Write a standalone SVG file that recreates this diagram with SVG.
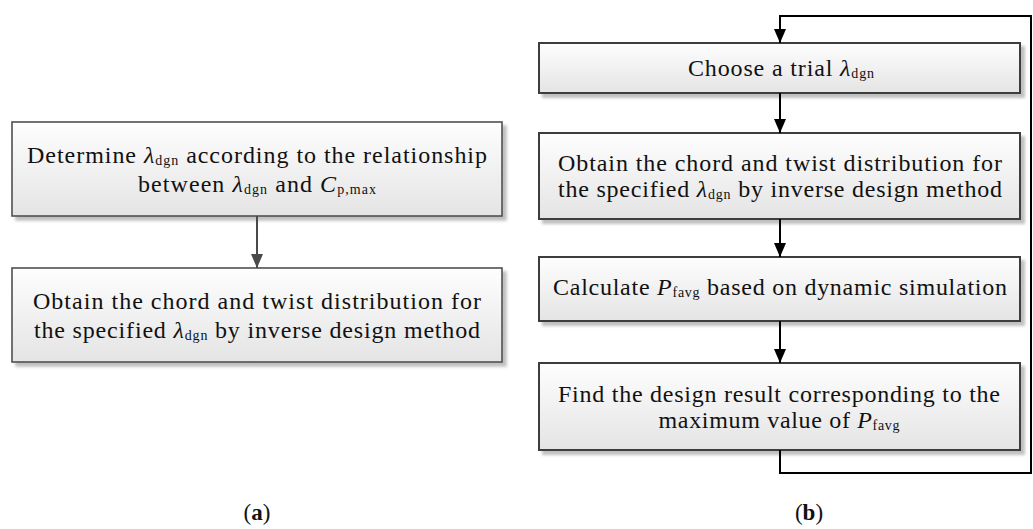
<svg xmlns="http://www.w3.org/2000/svg" width="1033" height="529" viewBox="0 0 1033 529">
<defs>
<linearGradient id="fillg" x1="0" y1="0" x2="0" y2="1">
<stop offset="0" stop-color="#fefefe"/>
<stop offset="1" stop-color="#e4e4e4"/>
</linearGradient>
<filter id="shadow" x="-5%" y="-10%" width="115%" height="130%">
<feGaussianBlur in="SourceAlpha" stdDeviation="1.5"/>
<feOffset dx="4" dy="4" result="b"/>
<feComponentTransfer><feFuncA type="linear" slope="0.25"/></feComponentTransfer>
<feMerge><feMergeNode/><feMergeNode in="SourceGraphic"/></feMerge>
</filter>
<marker id="arrG" markerWidth="12" markerHeight="14" refX="6" refY="14" markerUnits="userSpaceOnUse" viewBox="0 0 12 14">
<path d="M0,0 L12,0 L6,14 Z" fill="#4a4a4a"/>
</marker>
<marker id="arrK" markerWidth="12" markerHeight="14" refX="6" refY="14" markerUnits="userSpaceOnUse" viewBox="0 0 12 14">
<path d="M0,0 L12,0 L6,14 Z" fill="#000"/>
</marker>
</defs>
<style>
.box{fill:url(#fillg);filter:url(#shadow)}
.bl{stroke:#505050;stroke-width:1.6}
.br{stroke:#3c3c3c;stroke-width:2}
text{font-family:"Liberation Serif","Times New Roman",serif;font-size:24px;fill:#111}
.it{font-style:italic}
.sb{font-size:14px}
.lab{font-size:23px}
.cg{fill:none;stroke:#4a4a4a;stroke-width:2}
.ck{fill:none;stroke:#000;stroke-width:2}
</style>

<g id="a1">
<rect class="box bl" x="12" y="122" width="490" height="94"/>
<text x="257" y="163" text-anchor="middle" textLength="460" lengthAdjust="spacing">Determine <tspan class="it">λ</tspan><tspan class="sb" dy="2">dgn</tspan><tspan dy="-2"> according to the relationship</tspan></text>
<text x="257" y="192" text-anchor="middle" textLength="238" lengthAdjust="spacing">between <tspan class="it">λ</tspan><tspan class="sb" dy="2">dgn</tspan><tspan dy="-2"> and </tspan><tspan class="it">C</tspan><tspan class="sb" dy="2">p,max</tspan></text>
</g>

<g id="a2">
<rect class="box bl" x="12" y="268" width="490" height="94"/>
<text x="257" y="309" text-anchor="middle" textLength="448" lengthAdjust="spacing">Obtain the chord and twist distribution for</text>
<text x="257" y="338" text-anchor="middle" textLength="446" lengthAdjust="spacing">the specified <tspan class="it">λ</tspan><tspan class="sb" dy="2">dgn</tspan><tspan dy="-2"> by inverse design method</tspan></text>
</g>

<g id="b1">
<rect class="box br" x="539" y="43" width="481" height="50"/>
<text x="781" y="76" text-anchor="middle" textLength="186" lengthAdjust="spacing">Choose a trial <tspan class="it">λ</tspan><tspan class="sb" dy="2">dgn</tspan></text>
</g>

<g id="b2">
<rect class="box br" x="539" y="133" width="481" height="86"/>
<text x="780" y="171" text-anchor="middle" textLength="444" lengthAdjust="spacing">Obtain the chord and twist distribution for</text>
<text x="780" y="197" text-anchor="middle" textLength="444" lengthAdjust="spacing">the specified <tspan class="it">λ</tspan><tspan class="sb" dy="2">dgn</tspan><tspan dy="-2"> by inverse design method</tspan></text>
</g>

<g id="b3">
<rect class="box br" x="539" y="257" width="481" height="64"/>
<text x="780" y="295" text-anchor="middle" textLength="454" lengthAdjust="spacing">Calculate <tspan class="it">P</tspan><tspan class="sb" dy="2">favg</tspan><tspan dy="-2"> based on dynamic simulation</tspan></text>
</g>

<g id="b4">
<rect class="box br" x="539" y="363" width="481" height="87"/>
<text x="779" y="402" text-anchor="middle" textLength="442" lengthAdjust="spacing">Find the design result corresponding to the</text>
<text x="779" y="428" text-anchor="middle" textLength="241" lengthAdjust="spacing">maximum value of <tspan class="it">P</tspan><tspan class="sb" dy="2">favg</tspan></text>
</g>

<g id="connectors">
<line class="cg" x1="257" y1="216" x2="257" y2="268" marker-end="url(#arrG)"/>
<line class="ck" x1="780" y1="93" x2="780" y2="133" marker-end="url(#arrK)"/>
<line class="ck" x1="780" y1="219" x2="780" y2="257" marker-end="url(#arrK)"/>
<line class="ck" x1="780" y1="321" x2="780" y2="363" marker-end="url(#arrK)"/>
<polyline class="ck" points="780,450 780,473 1031,473 1031,16 780,16 780,43" marker-end="url(#arrK)"/>
</g>

<g id="labels">
<text class="lab" x="257" y="520" text-anchor="middle">(<tspan font-weight="bold">a</tspan>)</text>
<text class="lab" x="809" y="520" text-anchor="middle">(<tspan font-weight="bold">b</tspan>)</text>
</g>
</svg>
